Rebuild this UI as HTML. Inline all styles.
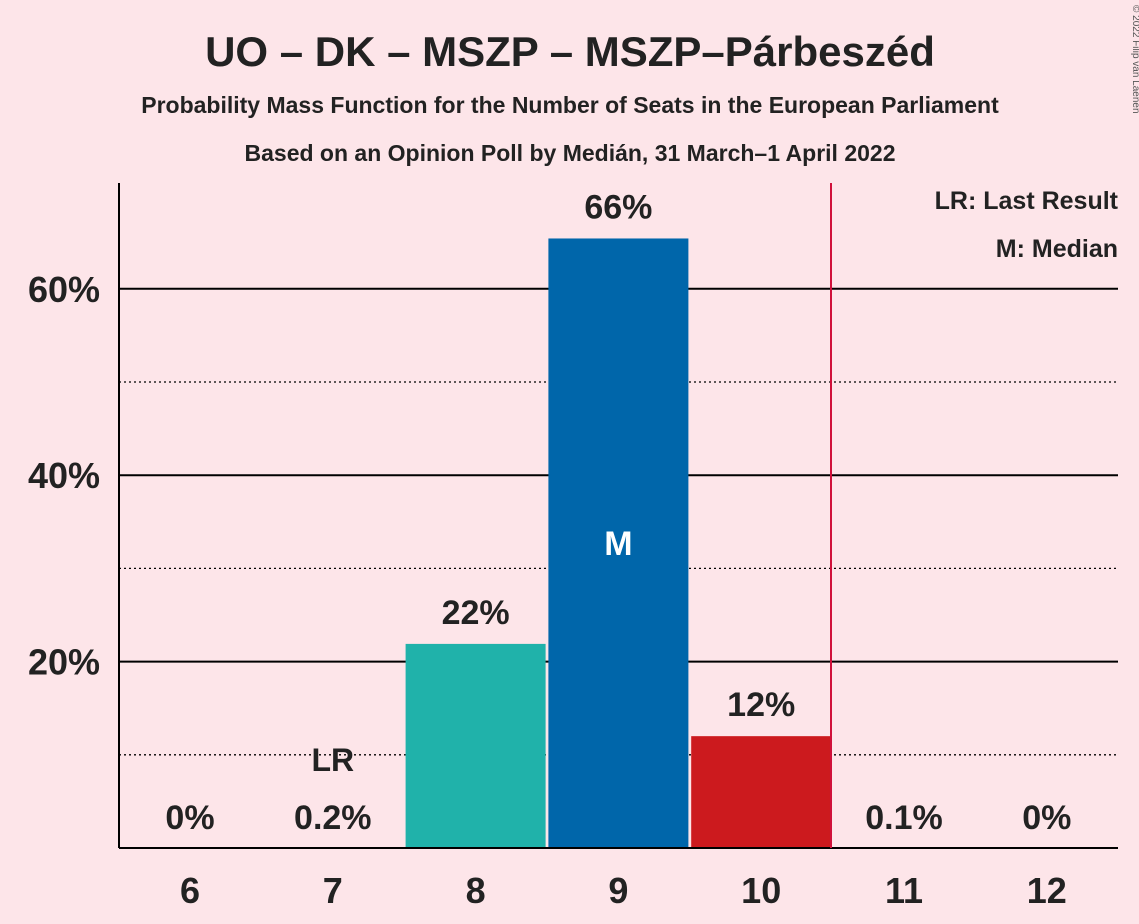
<!DOCTYPE html>
<html><head><meta charset="utf-8"><style>
body{margin:0;background:#fde5e9;}
svg{display:block;font-family:"Liberation Sans",sans-serif;}
</style></head><body>
<svg id="chart" width="1139" height="924">
<rect width="1139" height="924" fill="#fde5e9"/>
<text x="570" y="66" text-anchor="middle" font-size="42" font-weight="bold" fill="#222">UO – DK – MSZP – MSZP–Párbeszéd</text>
<text x="570" y="113" text-anchor="middle" font-size="23" font-weight="bold" fill="#222">Probability Mass Function for the Number of Seats in the European Parliament</text>
<text x="570" y="161" text-anchor="middle" font-size="23" font-weight="bold" fill="#222">Based on an Opinion Poll by Medián, 31 March–1 April 2022</text>
<text x="1133" y="5" transform="rotate(90 1133 5)" font-size="10" fill="#555">© 2022 Filip van Laenen</text>
<g id="grid"></g>
<g id="bars"></g>
<line x1="119" y1="183" x2="119" y2="848" stroke="#000" stroke-width="2"/>
<line x1="119" y1="848" x2="1118" y2="848" stroke="#000" stroke-width="2"/>
<line x1="831" y1="183" x2="831" y2="848" stroke="#d0103a" stroke-width="2"/>
<text x="1118" y="209" text-anchor="end" font-size="25" font-weight="bold" fill="#222">LR: Last Result</text>
<text x="1118" y="257" text-anchor="end" font-size="25" font-weight="bold" fill="#222">M: Median</text>
</svg>
<script>
const categories=[6,7,8,9,10,11,12];
const values=[0,0.2,21.9,65.4,12.0,0.1,0];
const valueLabels=["0%","0.2%","22%","66%","12%","0.1%","0%"];
const colors=["#20b2aa","#20b2aa","#20b2aa","#0066aa","#cc1a1e","#cc1a1e","#cc1a1e"];
const yTicks=[20,40,60];
const yMinor=[10,30,50];
const medianIndex=3, lastResultIndex=1;
const ns="http://www.w3.org/2000/svg";
const x=i=>190+i*142.8;
const y=v=>848-v*9.32;
function mk(t,a,p){const e=document.createElementNS(ns,t);for(const k in a)e.setAttribute(k,a[k]);p.appendChild(e);return e;}
const g=document.getElementById('grid'),b=document.getElementById('bars');
yMinor.forEach(v=>{const l=mk('line',{x1:119,x2:1118,y1:y(v),y2:y(v),stroke:'#000','stroke-width':1.3,'stroke-dasharray':'2,3'},g);

});
yTicks.forEach(v=>{const l=mk('line',{x1:119,x2:1118,y1:y(v),y2:y(v),stroke:'#000','stroke-width':2},g);


const t=mk('text',{x:100,y:y(v)+13,'text-anchor':'end','font-size':36,'font-weight':'bold',fill:'#222'},g);t.textContent=v+'%';

});
categories.forEach((c,i)=>{
 const v=values[i];
 if(v>0.5){const r=mk('rect',{x:x(i)-70,y:y(v),width:140,height:848-y(v),fill:colors[i]},b);
 
 }
 const lab=mk('text',{x:x(i),y:(v>5?y(v)-20:829),'text-anchor':'middle','font-size':34,'font-weight':'bold',fill:'#222'},b);lab.textContent=valueLabels[i];
 
 
 const xl=mk('text',{x:x(i),y:903,'text-anchor':'middle','font-size':36,'font-weight':'bold',fill:'#222'},b);xl.textContent=c;
 
 
});
const m=mk('text',{x:x(medianIndex),y:y(values[medianIndex]/2)+12,'text-anchor':'middle','font-size':34,'font-weight':'bold',fill:'#fff'},b);m.textContent='M';


const lr=mk('text',{x:x(lastResultIndex),y:771,'text-anchor':'middle','font-size':32,'font-weight':'bold',fill:'#222'},b);lr.textContent='LR';


</script>
</body></html>
